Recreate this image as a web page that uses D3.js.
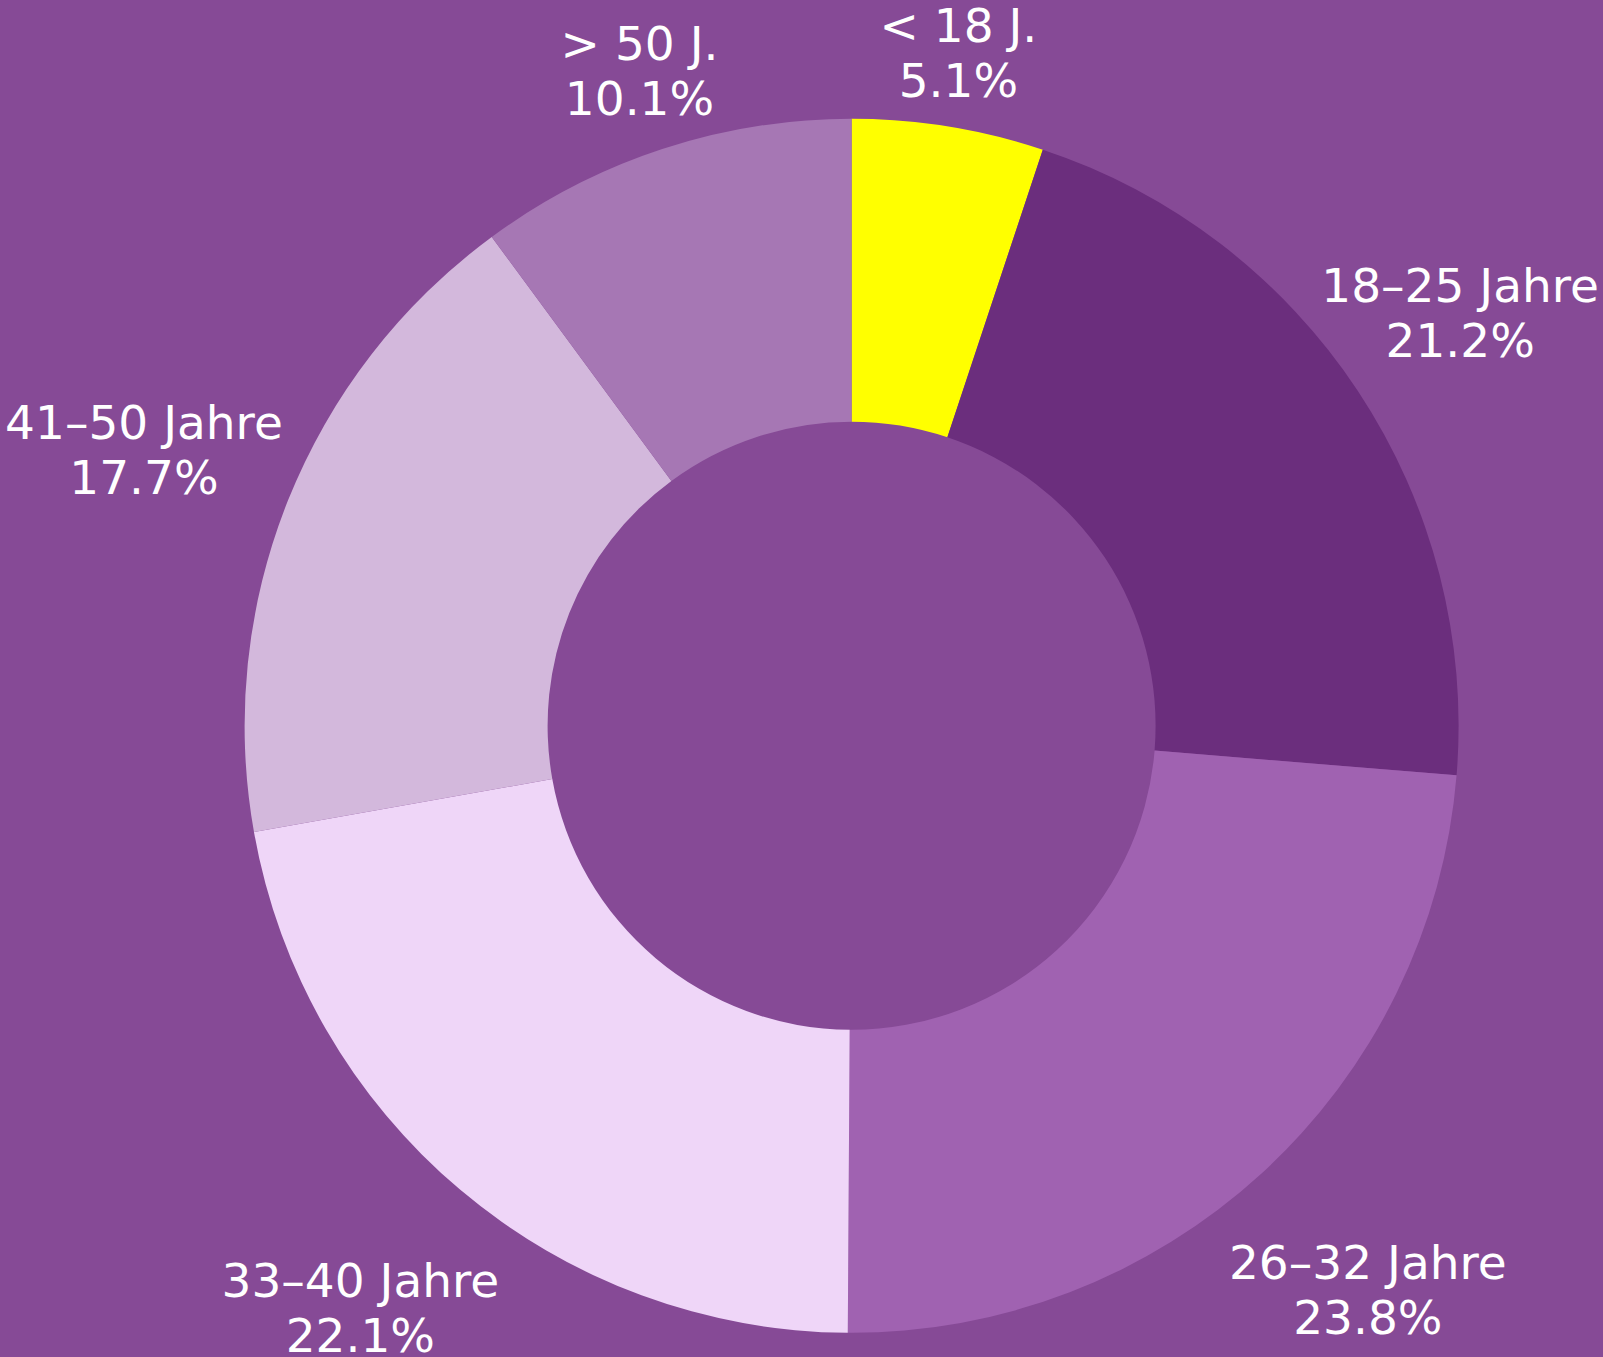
<!DOCTYPE html>
<html>
<head>
<meta charset="utf-8">
<script src="https://cdn.jsdelivr.net/npm/d3@7"></script>
<style>
  html, body { margin: 0; padding: 0; background: #864a96; overflow: hidden; }
  svg { display: block; }
  .label { font-family: "DejaVu Sans", sans-serif; font-weight: 400; font-size: 47px; fill: #ffffff; }
</style>
</head>
<body>
<div id="chart"></div>
<script>
  // Altersverteilung, Anteil in Prozent, im Uhrzeigersinn ab 12 Uhr
  var categories = ["< 18 J.", "18–25 Jahre", "26–32 Jahre", "33–40 Jahre", "41–50 Jahre", "> 50 J."];
  var shares = [5.1, 21.2, 23.8, 22.1, 17.7, 10.1];
  var sliceColors = ["#ffff00", "#6b2e7d", "#a062b1", "#efd6f8", "#d3b8dc", "#a677b4"];

  var width = 1603;
  var height = 1357;
  var cx = 851.6;
  var cy = 725.8;
  var outerR = 607;
  var innerR = 304;
  var lineGap = 55;

  var color = d3.scaleOrdinal().domain(categories).range(sliceColors);
  var fmt = d3.format(".1f");

  var svg = d3.select("#chart").append("svg")
    .attr("width", width)
    .attr("height", height);

  svg.append("rect")
    .attr("width", width)
    .attr("height", height)
    .attr("fill", "#864a96");

  var g = svg.append("g").attr("transform", "translate(" + cx + "," + cy + ")");

  var pie = d3.pie().sort(null).value(function (d) { return d.value; });
  var arcs = pie(categories.map(function (c, i) { return { name: c, value: shares[i] }; }));

  var arc = d3.arc().innerRadius(innerR).outerRadius(outerR);

  g.selectAll("path.slice")
    .data(arcs)
    .join("path")
    .attr("class", "slice")
    .attr("d", arc)
    .attr("fill", function (d) { return color(d.data.name); });

  var labels = g.selectAll("text.label")
    .data(arcs)
    .join("text")
    .attr("class", "label")
    .attr("text-anchor", "middle");

  labels.append("tspan")
    .attr("x", 0)
    .attr("y", -lineGap / 2)
    .text(function (d) { return d.data.name; });

  labels.append("tspan")
    .attr("x", 0)
    .attr("y", lineGap / 2)
    .text(function (d) { return fmt(d.data.value) + "%"; });

  // Push each label block outward along its mid-angle until its box clears the ring,
  // then keep it inside the picture horizontally.
  labels.each(function (d) {
    var box = this.getBBox();
    var hw = box.width / 2;
    var a = (d.startAngle + d.endAngle) / 2;
    var s = Math.sin(a), c = Math.cos(a);
    var hh = c > 0 ? 38 : 70;
    var r = outerR + 12 + Math.abs(s) * hw + Math.abs(c) * hh;
    var x = r * s;
    var y = -r * c + Math.abs(s) * 25;
    x = Math.max(-cx + hw + 4, Math.min(width - cx - hw - 4, x));
    d3.select(this).attr("transform", "translate(" + x + "," + y + ")");
  });
</script>
</body>
</html>
